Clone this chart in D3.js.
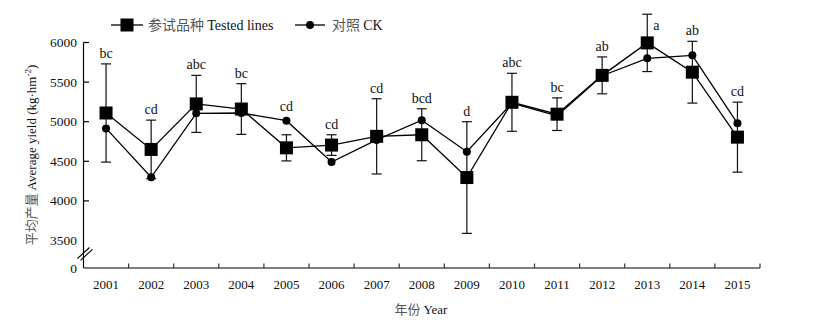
<!DOCTYPE html>
<html><head><meta charset="utf-8">
<script src="https://cdn.jsdelivr.net/npm/d3@7"></script>
<style>
body{margin:0;background:#fff;}
text{font-family:"Liberation Serif","Noto Sans CJK SC",serif;}
.cjk{font-family:"Noto Sans CJK SC",sans-serif;fill:#555;}
</style></head>
<body><svg id="c" width="837" height="325"></svg>
<script>
const years = ["2001","2002","2003","2004","2005","2006","2007","2008","2009","2010","2011","2012","2013","2014","2015"];
const tested = [5110,4650,5225,5160,4670,4705,4815,4835,4295,5245,5095,5585,5995,5625,4805];
const testedSd = [620,370,360,320,165,130,475,328,705,366,206,233,362,390,442];
const ck = [4915,4298,5106,5110,5013,4491,4770,5018,4621,5235,5075,5580,5800,5838,4980];
const sigLetters = ["bc","cd","abc","bc","cd","cd","cd","bcd","d","abc","bc","ab","a","ab","cd"];
const yTicks = [0,3500,4000,4500,5000,5500,6000];

const svg = d3.select("#c");
const x = d3.scaleBand().domain(years).range([83.5,760]).padding(0);
const y = d3.scaleLinear().domain([0,3500,6000]).range([268,240.5,42.5]);
const cx = d => x(d) + x.bandwidth()/2;

const g = svg.append("g");
g.append("line").attr("x1",83.5).attr("x2",83.5).attr("y1",y(6000)).attr("y2",268).attr("stroke","#000").attr("stroke-width",1.2);
g.append("line").attr("x1",83.5).attr("x2",760).attr("y1",268).attr("y2",268).attr("stroke","#555").attr("stroke-width",1.4);
const edges = years.map(d=>x(d)).concat([x(years[years.length-1])+x.bandwidth()]);
g.selectAll(".xt").data(edges.slice(1)).join("line")
  .attr("x1",d=>d).attr("x2",d=>d).attr("y1",268).attr("y2",263.5).attr("stroke","#333").attr("stroke-width",1.2);
g.selectAll(".xl").data(years).join("text")
  .attr("x",d=>cx(d)).attr("y",289).attr("text-anchor","middle").attr("font-size",13).attr("fill","#111").text(d=>d);
g.selectAll(".yt").data(yTicks.filter(v=>v>=4000)).join("line")
  .attr("x1",83.5).attr("x2",89).attr("y1",d=>y(d)).attr("y2",d=>y(d)).attr("stroke","#000").attr("stroke-width",1.2);
g.selectAll(".yl").data(yTicks).join("text")
  .attr("x",77).attr("y",d=>y(d)+4.5).attr("text-anchor","end").attr("font-size",13.5).attr("fill","#111").text(d=>d);
[0,3].forEach(o=>{
  g.append("line").attr("x1",77.5+o).attr("y1",258.5+o*0.6).attr("x2",89.5+o).attr("y2",247.5+o*0.6)
   .attr("stroke","#000").attr("stroke-width",1.1);
});

const xt = svg.append("text").attr("x",421).attr("y",314).attr("text-anchor","middle").attr("font-size",13);
xt.append("tspan").attr("class","cjk").text("年份 ");
xt.append("tspan").attr("fill","#111").text("Year");
const yt = svg.append("text").attr("transform","translate(36,155) rotate(-90)").attr("text-anchor","middle").attr("font-size",13);
yt.append("tspan").attr("class","cjk").text("平均产量 ");
yt.append("tspan").attr("fill","#111").text("Average yield (kg·hm");
yt.append("tspan").attr("fill","#111").attr("font-size",9).attr("dy",-5).text("-2");
yt.append("tspan").attr("fill","#111").attr("dy",5).text(")");

const eb = svg.append("g").attr("stroke","#111").attr("stroke-width",1.2);
years.forEach((d,i)=>{
  const t = y(tested[i]+testedSd[i]), b = y(tested[i]-testedSd[i]), xc = cx(d);
  eb.append("line").attr("x1",xc).attr("x2",xc).attr("y1",t).attr("y2",b);
  eb.append("line").attr("x1",xc-5).attr("x2",xc+5).attr("y1",t).attr("y2",t);
  eb.append("line").attr("x1",xc-5).attr("x2",xc+5).attr("y1",b).attr("y2",b);
});

const line = d3.line().x((v,i)=>cx(years[i])).y(v=>y(v));
svg.append("path").attr("d",line(ck)).attr("fill","none").attr("stroke","#000").attr("stroke-width",1.3);
svg.append("path").attr("d",line(tested)).attr("fill","none").attr("stroke","#000").attr("stroke-width",1.3);

svg.selectAll(".ck").data(ck).join("circle")
  .attr("cx",(v,i)=>cx(years[i])).attr("cy",v=>y(v)).attr("r",4).attr("fill","#000");
const s = 13;
svg.selectAll(".sq").data(tested).join("rect")
  .attr("x",(v,i)=>cx(years[i])-s/2).attr("y",v=>y(v)-s/2).attr("width",s).attr("height",s).attr("fill","#000");

svg.selectAll(".sig").data(sigLetters).join("text")
  .attr("x",(d,i)=> d==="a" ? cx(years[i])+6 : cx(years[i]))
  .attr("y",(d,i)=> {
    const cap = y(tested[i]+testedSd[i]);
    if (d==="a") return cap+16;
    return Math.min(cap, y(ck[i])-4) - 6;
  })
  .attr("text-anchor",d=> d==="a" ? "start":"middle")
  .attr("font-size",14).attr("fill","#111").text(d=>d);

const lg = svg.append("g");
lg.append("line").attr("x1",111).attr("x2",143).attr("y1",25).attr("y2",25).attr("stroke","#000").attr("stroke-width",1.3);
lg.append("rect").attr("x",127-6.5).attr("y",25-6.5).attr("width",13).attr("height",13).attr("fill","#000");
const l1 = lg.append("text").attr("x",148).attr("y",30).attr("font-size",14);
l1.append("tspan").attr("class","cjk").text("参试品种 ");
l1.append("tspan").attr("fill","#111").text("Tested lines");
lg.append("line").attr("x1",295).attr("x2",325).attr("y1",25).attr("y2",25).attr("stroke","#000").attr("stroke-width",1.3);
lg.append("circle").attr("cx",310).attr("cy",25).attr("r",4).attr("fill","#000");
const l2 = lg.append("text").attr("x",332).attr("y",30).attr("font-size",14);
l2.append("tspan").attr("class","cjk").text("对照 ");
l2.append("tspan").attr("fill","#111").text("CK");
</script></body></html>
